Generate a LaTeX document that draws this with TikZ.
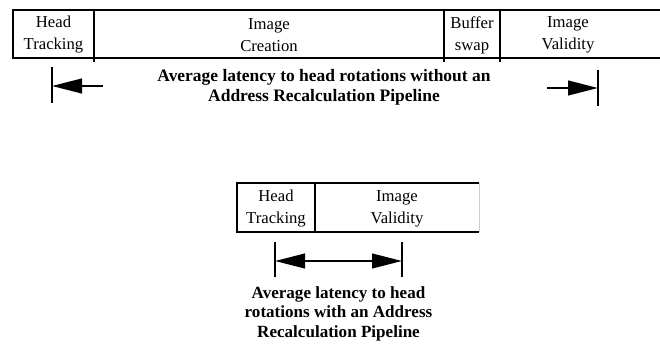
\documentclass[tikz,border=0pt]{standalone}
\usepackage{fontspec}
\setmainfont{Liberation Serif}
\usetikzlibrary{arrows.meta}
\usetikzlibrary{calc}

\begin{document}
\begin{tikzpicture}[
    x=0.75pt,y=-0.75pt,
    cell/.style={draw,line width=1.8pt},
    divider/.style={line width=1.8pt},
    bar/.style={line width=1.8pt},
    latency arrow/.style={line width=1.6pt,-{Triangle[length=22.5pt,width=11pt]}},
    label node/.style={align=center,inner sep=0pt,font=\fontsize{12.5}{16.5}\selectfont},
    caption node/.style={align=center,inner sep=0pt,font=\bfseries\fontsize{13.1}{15}\selectfont}
    ]
    \useasboundingbox (0,0) rectangle (660,345);
    % top pipeline (without)
    \draw [cell] (670,10) -- (13,10) -- (13,58) -- (670,58);
    \draw [divider] (94,10) -- (94,62);
    \draw [divider] (444,10) -- (444,62);
    \draw [divider] (500,10) -- (500,62);
    \node [label node] (track1) at (53.5,35) {Head\\Tracking};
    \node [label node] (create1) at (269,35) {Image\\Creation};
    \node [label node] (swap1) at (472,35) {Buffer\\swap};
    \node [label node] (valid1) at (568,35) {Image\\Validity};
    % latency without
    \coordinate (LBtop) at (52,67);
    \coordinate (LBbot) at (52,103);
    \coordinate (Lstart) at (103,86);
    \draw [bar] (LBtop) -- (LBbot);
    \draw [latency arrow] (Lstart) -- (LBtop |- Lstart);
    \coordinate (RBtop) at (598,70);
    \coordinate (RBbot) at (598,106);
    \coordinate (Rstart) at (547,88);
    \draw [bar] (RBtop) -- (RBbot);
    \draw [latency arrow] (Rstart) -- (RBtop |- Rstart);
    \node [caption node] (without) at (324,87) {Average latency to head rotations without an\\Address Recalculation Pipeline};
    % bottom pipeline (with)
    \draw [cell] (479,183) -- (237,183) -- (237,232) -- (479,232);
    \draw [black!20,line width=0.6pt] (479,183) -- (479,232);
    \draw [divider] (315,183) -- (315,232);
    \node [label node] (track2) at (276,208.5) {Head\\Tracking};
    \node [label node] (valid2) at (397,208.5) {Image\\Validity};
    % latency with
    \coordinate (BLtop) at (275,242);
    \coordinate (BLbot) at (275,277);
    \coordinate (BRtop) at (402,242);
    \coordinate (BRbot) at (402,277);
    \draw [bar] (BLtop) -- (BLbot);
    \draw [bar] (BRtop) -- (BRbot);
    \coordinate (Bmid) at ($(BLtop)!0.5!(BRtop)+(0,19)$);
    \draw [latency arrow] (Bmid) -- (BLtop |- Bmid);
    \draw [latency arrow] (Bmid) -- (BRtop |- Bmid);
    \node [caption node,font=\bfseries\fontsize{12.8}{14.6}\selectfont] (with) at (338.5,313.5) {Average latency to head\\rotations with an Address\\Recalculation Pipeline};
\end{tikzpicture}
\end{document}
